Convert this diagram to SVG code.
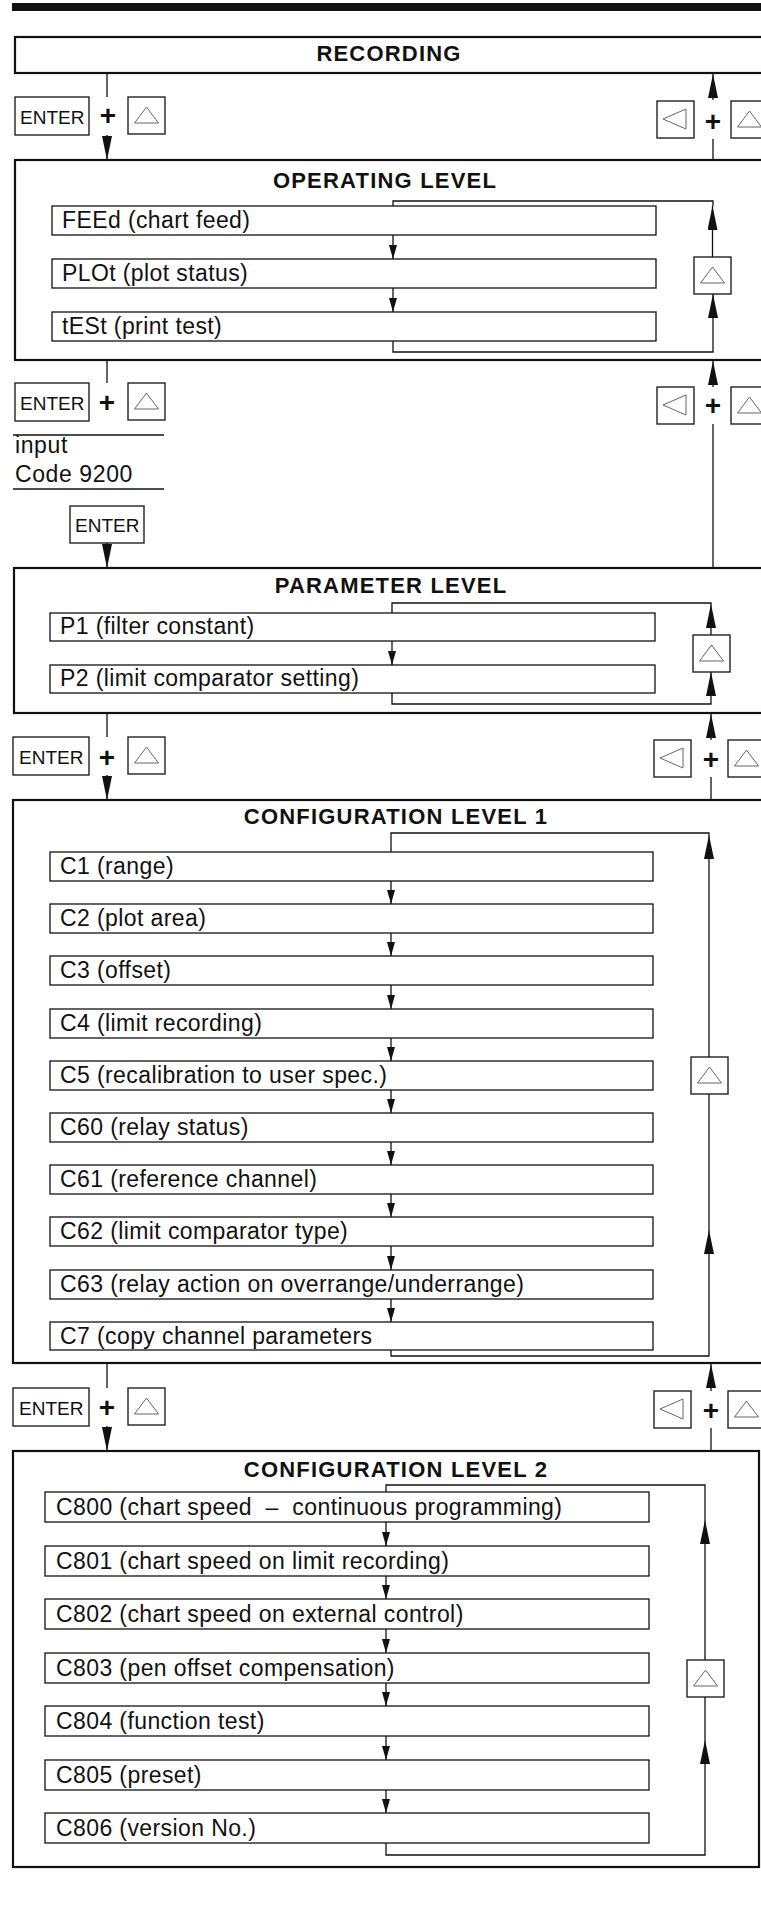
<svg xmlns="http://www.w3.org/2000/svg" xmlns:xlink="http://www.w3.org/1999/xlink" width="761" height="1906" viewBox="0 0 761 1906">
<style>
.lvl{fill:none;stroke:#111;stroke-width:2.2}
.item{fill:#fff;stroke:#111;stroke-width:1.3}
.btn{fill:#fff;stroke:#222;stroke-width:1.4}
.tri{fill:none;stroke:#666;stroke-width:1}
.ttl{font-family:"Liberation Sans",Arial,sans-serif;font-weight:bold;font-size:22px;letter-spacing:1.2px;text-anchor:middle;fill:#111}
.txt{font-family:"Liberation Sans",Arial,sans-serif;font-size:23px;letter-spacing:0.4px;fill:#111;white-space:pre}
.key{font-family:"Liberation Sans",Arial,sans-serif;font-size:19px;fill:#111}
.plus{font-family:"Liberation Sans",Arial,sans-serif;font-size:28px;font-weight:bold;text-anchor:middle;fill:#111}
.con{fill:none;stroke:#111;stroke-width:1.3}
</style>
<defs>
<marker id="ab" viewBox="0 0 24 10" refX="24" refY="5" markerWidth="24" markerHeight="10" orient="auto" markerUnits="userSpaceOnUse"><path d="M0,0L24,5L0,10z" fill="#111"/></marker>
<marker id="as" viewBox="0 0 14 8" refX="14" refY="4" markerWidth="14" markerHeight="8" orient="auto" markerUnits="userSpaceOnUse"><path d="M0,0L14,4L0,8z" fill="#111"/></marker>
<g id="upk"><rect class="btn" x="0" y="0" width="37" height="37"/><polygon class="tri" points="18.5,10 6.5,26 30.5,26"/></g>
<g id="lfk"><rect class="btn" x="0" y="0" width="37" height="37"/><polygon class="tri" points="6,18 29,8 29,28"/></g>
</defs>
<rect x="0" y="0" width="761" height="1906" fill="#fff"/>
<rect x="12" y="3" width="760" height="8" fill="#111"/>

<g id="recording"><rect class="lvl" x="15" y="37" width="760" height="36"/><text class="ttl" x="389" y="61">RECORDING</text></g>

<g id="keys1">
<rect class="btn" x="15" y="97" width="74" height="38"/><text class="key" x="20" y="124">ENTER</text>
<text class="plus" x="108" y="125">+</text>
<use href="#upk" x="128" y="97"/>
<use href="#lfk" x="657" y="101"/>
<text class="plus" x="713" y="131">+</text>
<use href="#upk" x="731" y="101"/>
</g>

<g id="operating">
<rect class="lvl" x="15" y="160" width="760" height="200"/>
<text class="ttl" x="385" y="188">OPERATING LEVEL</text>
<g id="feed"><rect class="item" x="52" y="206" width="604" height="29"/><text class="txt" x="62" y="228">FEEd (chart feed)</text></g>
<g id="plot"><rect class="item" x="52" y="259" width="604" height="29"/><text class="txt" x="62" y="281">PLOt (plot status)</text></g>
<g id="test"><rect class="item" x="52" y="312" width="604" height="29"/><text class="txt" x="62" y="334">tESt (print test)</text></g>
<use id="op-up" href="#upk" x="694" y="257"/>
</g>

<g id="keys2">
<rect class="btn" x="15" y="383" width="74" height="38"/><text class="key" x="20" y="410">ENTER</text>
<text class="plus" x="107" y="412">+</text>
<use href="#upk" x="128" y="383"/>
<use href="#lfk" x="657" y="387"/>
<text class="plus" x="713" y="415">+</text>
<use href="#upk" x="731" y="387"/>
</g>

<g id="code">
<line class="con" x1="13" y1="435" x2="164" y2="435"/>
<text class="txt" x="15" y="453" style="letter-spacing:0.6px">input</text>
<text class="txt" x="15" y="482" style="letter-spacing:0.6px">Code 9200</text>
<line class="con" x1="13" y1="489" x2="164" y2="489"/>
</g>

<g id="enter3"><rect class="btn" x="70" y="506" width="74" height="37"/><text class="key" x="75" y="532">ENTER</text></g>

<g id="parameter">
<rect class="lvl" x="14" y="568" width="760" height="145"/>
<text class="ttl" x="391" y="593">PARAMETER LEVEL</text>
<g id="p1"><rect class="item" x="50" y="613" width="605" height="28"/><text class="txt" x="60" y="634">P1 (filter constant)</text></g>
<g id="p2"><rect class="item" x="50" y="665" width="605" height="28"/><text class="txt" x="60" y="686">P2 (limit comparator setting)</text></g>
<use id="par-up" href="#upk" x="693" y="635"/>
</g>

<g id="keys3">
<rect class="btn" x="13" y="737" width="76" height="38"/><text class="key" x="19" y="764">ENTER</text>
<text class="plus" x="107" y="767">+</text>
<use href="#upk" x="128" y="737"/>
<use href="#lfk" x="654" y="740"/>
<text class="plus" x="711" y="769">+</text>
<use href="#upk" x="728" y="740"/>
</g>

<g id="config1">
<rect class="lvl" x="13" y="800" width="760" height="563"/>
<text class="ttl" x="396" y="824">CONFIGURATION LEVEL 1</text>
<g id="c1"><rect class="item" x="50" y="852" width="603" height="29"/><text class="txt" x="60" y="874">C1 (range)</text></g>
<g id="c2"><rect class="item" x="50" y="904" width="603" height="29"/><text class="txt" x="60" y="926">C2 (plot area)</text></g>
<g id="c3"><rect class="item" x="50" y="956" width="603" height="29"/><text class="txt" x="60" y="978">C3 (offset)</text></g>
<g id="c4"><rect class="item" x="50" y="1009" width="603" height="29"/><text class="txt" x="60" y="1031">C4 (limit recording)</text></g>
<g id="c5"><rect class="item" x="50" y="1061" width="603" height="29"/><text class="txt" x="60" y="1083">C5 (recalibration to user spec.)</text></g>
<g id="c60"><rect class="item" x="50" y="1113" width="603" height="29"/><text class="txt" x="60" y="1135">C60 (relay status)</text></g>
<g id="c61"><rect class="item" x="50" y="1165" width="603" height="29"/><text class="txt" x="60" y="1187">C61 (reference channel)</text></g>
<g id="c62"><rect class="item" x="50" y="1217" width="603" height="29"/><text class="txt" x="60" y="1239">C62 (limit comparator type)</text></g>
<g id="c63"><rect class="item" x="50" y="1270" width="603" height="29"/><text class="txt" x="60" y="1292">C63 (relay action on overrange/underrange)</text></g>
<g id="c7"><rect class="item" x="50" y="1322" width="603" height="28"/><text class="txt" x="60" y="1344">C7 (copy channel parameters</text></g>
<use id="c1-up" href="#upk" x="691" y="1057"/>
</g>

<g id="keys4">
<rect class="btn" x="13" y="1388" width="76" height="38"/><text class="key" x="19" y="1415">ENTER</text>
<text class="plus" x="107" y="1417">+</text>
<use href="#upk" x="128" y="1388"/>
<use href="#lfk" x="654" y="1391"/>
<text class="plus" x="711" y="1420">+</text>
<use href="#upk" x="728" y="1391"/>
</g>

<g id="config2">
<rect class="lvl" x="13" y="1451" width="746" height="416"/>
<text class="ttl" x="396" y="1477">CONFIGURATION LEVEL 2</text>
<g id="c800"><rect class="item" x="45" y="1492" width="604" height="30"/><text class="txt" x="56" y="1515">C800 (chart speed  –  continuous programming)</text></g>
<g id="c801"><rect class="item" x="45" y="1546" width="604" height="30"/><text class="txt" x="56" y="1569">C801 (chart speed on limit recording)</text></g>
<g id="c802"><rect class="item" x="45" y="1599" width="604" height="30"/><text class="txt" x="56" y="1622">C802 (chart speed on external control)</text></g>
<g id="c803"><rect class="item" x="45" y="1653" width="604" height="30"/><text class="txt" x="56" y="1676">C803 (pen offset compensation)</text></g>
<g id="c804"><rect class="item" x="45" y="1706" width="604" height="30"/><text class="txt" x="56" y="1729">C804 (function test)</text></g>
<g id="c805"><rect class="item" x="45" y="1760" width="604" height="30"/><text class="txt" x="56" y="1783">C805 (preset)</text></g>
<g id="c806"><rect class="item" x="45" y="1813" width="604" height="30"/><text class="txt" x="56" y="1836">C806 (version No.)</text></g>
<use id="c2-up" href="#upk" x="687" y="1660"/>
</g>

<g id="connectors">
<path class="con" d="M107,73V97"/>
<path class="con" d="M107,135V160" marker-end="url(#ab)"/>
<path class="con" d="M713,100V74" marker-end="url(#ab)"/>
<path class="con" d="M713,139V160"/>
<path class="con" d="M393,235V259" marker-end="url(#as)"/>
<path class="con" d="M393,288V312" marker-end="url(#as)"/>
<path class="con" d="M393,341V352H713V294" marker-end="url(#ab)"/>
<path class="con" d="M712.5,257V206" marker-end="url(#ab)"/>
<path class="con" d="M713,206V201H393V206"/>
<path class="con" d="M107,360V383"/>
<path class="con" d="M713,387V361" marker-end="url(#ab)"/>
<path class="con" d="M713,424V568"/>
<path class="con" d="M107,543V568" marker-end="url(#ab)"/>
<path class="con" d="M392,641V665" marker-end="url(#as)"/>
<path class="con" d="M392,693V704H711V672" marker-end="url(#ab)"/>
<path class="con" d="M711,635V604" marker-end="url(#ab)"/>
<path class="con" d="M711,604V603H392V613"/>
<path class="con" d="M107,713V737"/>
<path class="con" d="M107,775V800" marker-end="url(#ab)"/>
<path class="con" d="M711,740V714" marker-end="url(#ab)"/>
<path class="con" d="M711,777V800"/>
<path class="con" d="M391,881V904" marker-end="url(#as)"/>
<path class="con" d="M391,933V956" marker-end="url(#as)"/>
<path class="con" d="M391,985V1009" marker-end="url(#as)"/>
<path class="con" d="M391,1038V1061" marker-end="url(#as)"/>
<path class="con" d="M391,1090V1113" marker-end="url(#as)"/>
<path class="con" d="M391,1142V1165" marker-end="url(#as)"/>
<path class="con" d="M391,1194V1217" marker-end="url(#as)"/>
<path class="con" d="M391,1246V1270" marker-end="url(#as)"/>
<path class="con" d="M391,1299V1322" marker-end="url(#as)"/>
<path class="con" d="M391,1350V1356H709V1230" marker-end="url(#ab)"/>
<path class="con" d="M709,1230V1094"/>
<path class="con" d="M709,1057V835" marker-end="url(#ab)"/>
<path class="con" d="M709,835V833H391V852"/>
<path class="con" d="M107,1363V1388"/>
<path class="con" d="M107,1426V1451" marker-end="url(#ab)"/>
<path class="con" d="M711,1391V1364" marker-end="url(#ab)"/>
<path class="con" d="M711,1428V1451"/>
<path class="con" d="M386,1522V1546" marker-end="url(#as)"/>
<path class="con" d="M386,1576V1599" marker-end="url(#as)"/>
<path class="con" d="M386,1629V1653" marker-end="url(#as)"/>
<path class="con" d="M386,1683V1706" marker-end="url(#as)"/>
<path class="con" d="M386,1736V1760" marker-end="url(#as)"/>
<path class="con" d="M386,1790V1813" marker-end="url(#as)"/>
<path class="con" d="M386,1843V1855H705V1740" marker-end="url(#ab)"/>
<path class="con" d="M705,1740V1697"/>
<path class="con" d="M705,1660V1520" marker-end="url(#ab)"/>
<path class="con" d="M705,1520V1485H386V1492"/>
</g>
</svg>
